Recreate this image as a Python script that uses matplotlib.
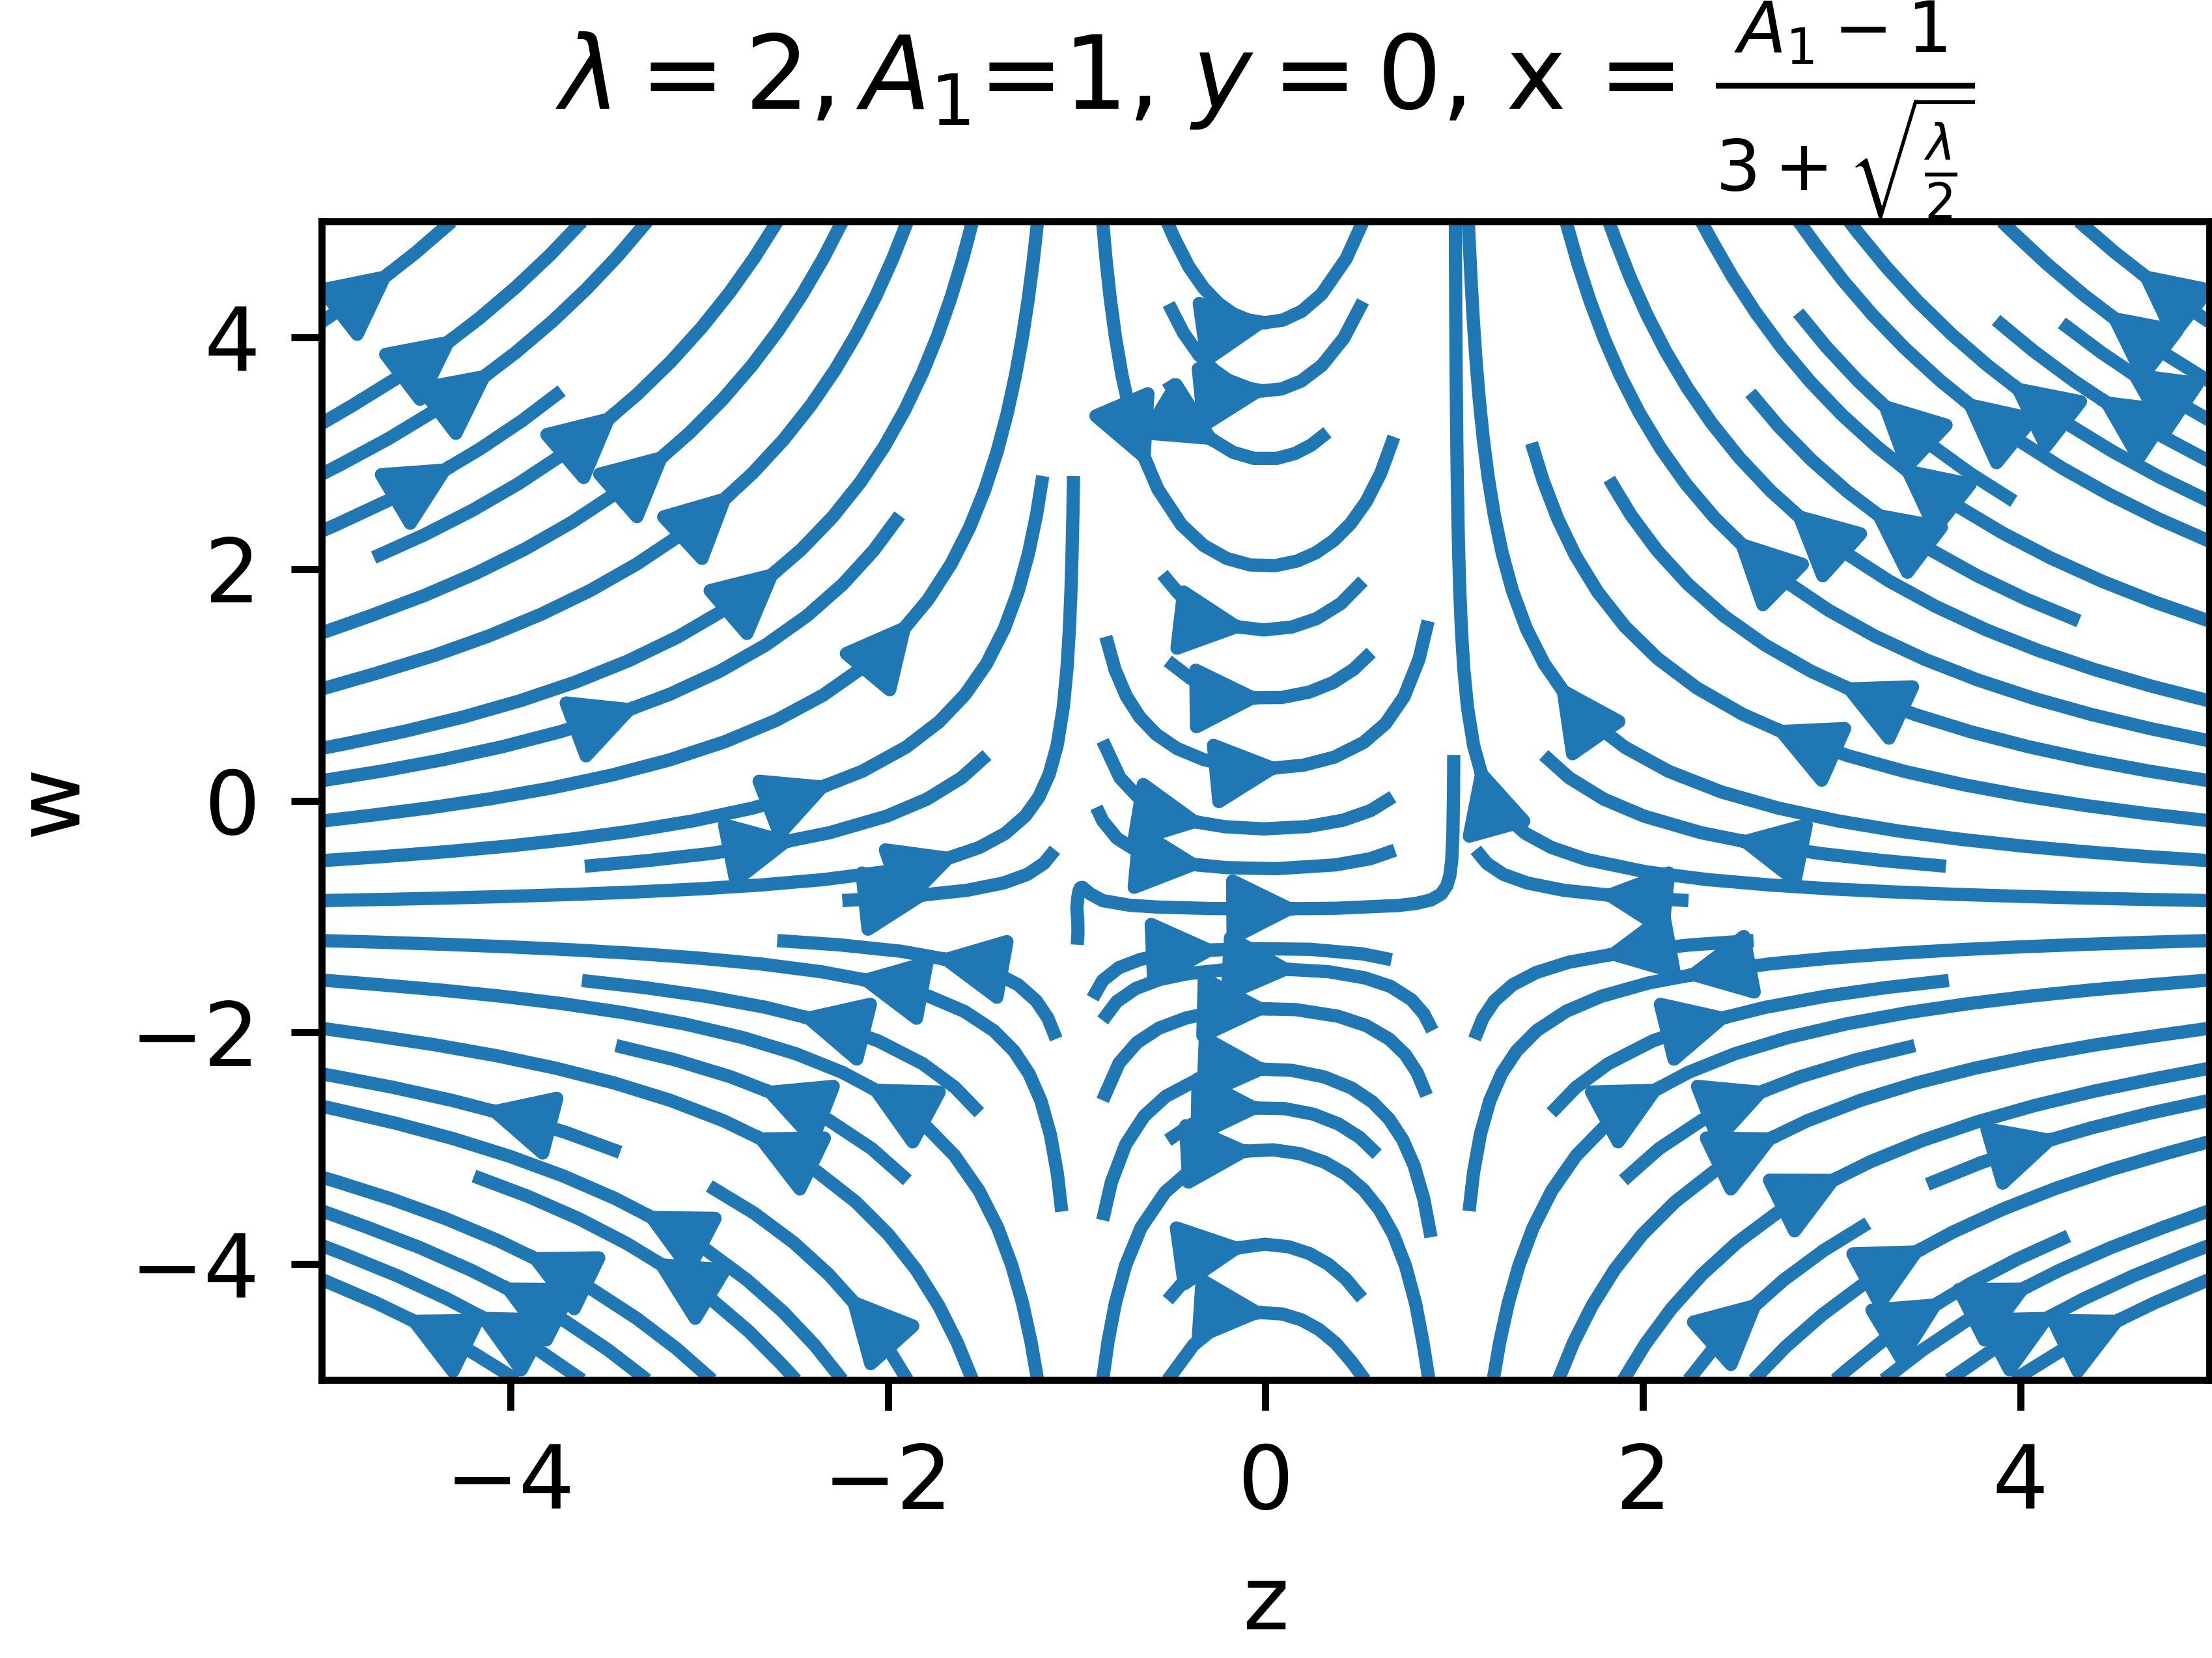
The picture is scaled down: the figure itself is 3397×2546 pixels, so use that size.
import matplotlib
matplotlib.use("Agg")
import matplotlib.pyplot as plt
import numpy as np

# parameters quoted in the title
lam = 2
A1 = 1

# plot window and ticks
z_range = (-5, 5)
w_range = (-5, 5)
ticks = [-4, -2, 0, 2, 4]
n_grid = 201

z = np.linspace(z_range[0], z_range[1], n_grid)
w = np.linspace(w_range[0], w_range[1], n_grid)
Z, W = np.meshgrid(z, w)

# orbits follow (w+1)*sqrt|1-z^2| = const, 'a' only sets the direction per region
P = 1 - Z**2
Wp = W + 1
C = Wp * np.sqrt(np.abs(P))
inside = np.abs(Z) < 1
upper = Wp > 0

a = np.where(inside, 1.0,
             np.where(upper, np.sign(Z),
                      np.where(Z < 0, 1.0, np.tanh((C + 1.5) / 0.3))))
U = P * a
V = Z * Wp * a

fig = plt.figure(figsize=(3397 / 975, 2546 / 975), dpi=975)
ax = fig.add_axes([0.1454, 0.1677, 0.8533, 0.6987])

ax.streamplot(Z, W, U, V, density=1, linewidth=1.5, arrowsize=1.6, color='C0')

ax.set_xlim(z_range)
ax.set_ylim(w_range)
ax.set_xticks(ticks)
ax.set_yticks(ticks)
ax.set_xlabel('z')
ax.set_ylabel('w')
ax.set_title(r'$\lambda = 2, A_1$=1, $y = 0$, x = '
             r'$\frac{A_1 - 1}{3 + \sqrt{\frac{\lambda}{2}}}$',
             fontsize=11.5, pad=3.5)

fig.savefig('out.png', dpi=975)
